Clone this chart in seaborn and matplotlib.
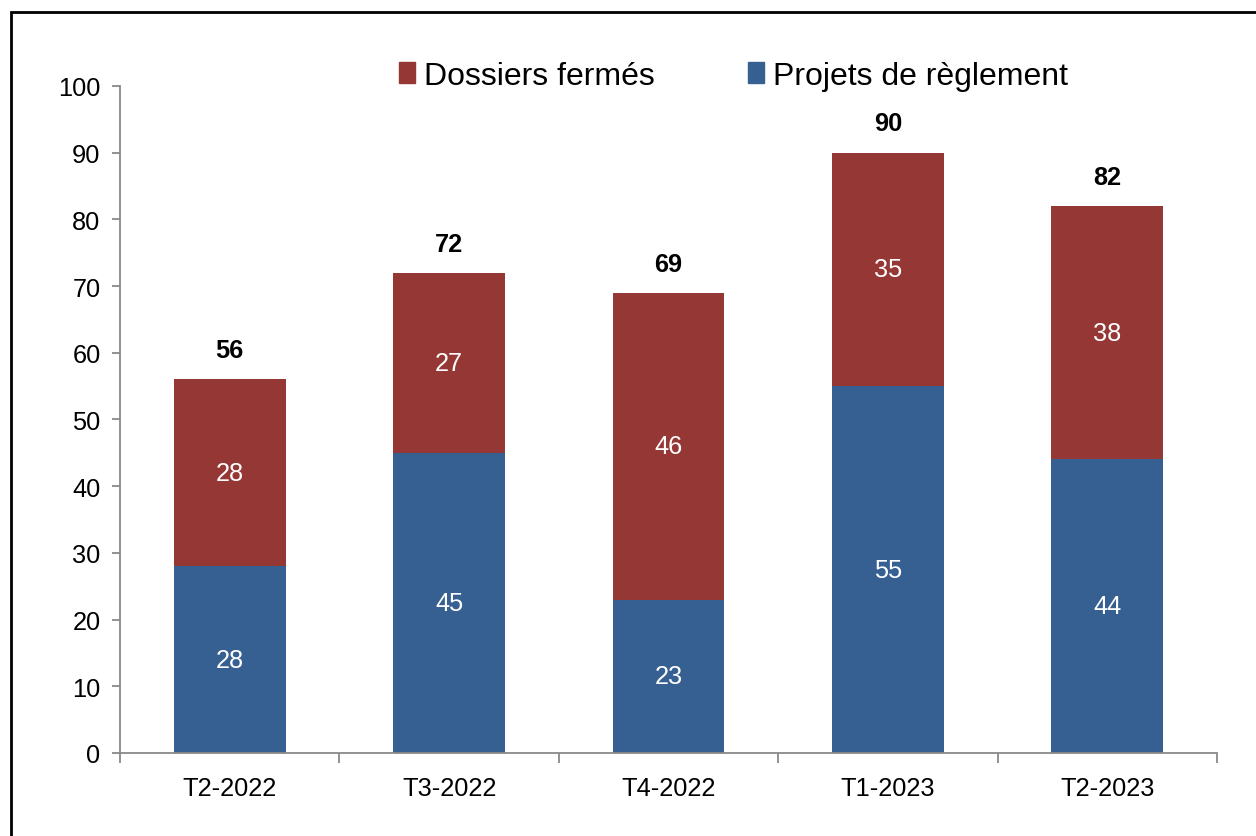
import numpy as np
import pandas as pd
import matplotlib
matplotlib.use("Agg")
import matplotlib.pyplot as plt
import seaborn as sns
from matplotlib.patches import Rectangle, Patch

# data
quarters = ["T2-2022", "T3-2022", "T4-2022", "T1-2023", "T2-2023"]
projets = [28, 45, 23, 55, 44]
dossiers = [28, 27, 46, 35, 38]

red = "#953735"
blue = "#376092"
grey = "#898989"

sns.set_style("white")
plt.rcParams['font.family'] = ['Liberation Sans', 'DejaVu Sans']
plt.rcParams['text.color'] = 'black'
plt.rcParams['xtick.color'] = 'black'
plt.rcParams['ytick.color'] = 'black'

df = pd.DataFrame({"Quarter": quarters, "Projets": projets, "Dossiers": dossiers})
df["Total"] = df["Projets"] + df["Dossiers"]

fig = plt.figure(figsize=(12.56, 8.37), dpi=100)
ax = fig.add_axes([0.0955, 0.0992, 0.8735, 0.7969])

sns.barplot(data=df, x="Quarter", y="Projets", color=blue, width=0.51,
            saturation=1, ax=ax, linewidth=0)
sns.barplot(data=df, x="Quarter", y="Dossiers", bottom=df["Projets"], color=red,
            width=0.51, saturation=1, ax=ax, linewidth=0)

# value labels
for i, row in df.iterrows():
    ax.text(i, row["Projets"] / 2, str(row["Projets"]), ha="center", va="center",
            color="white", fontsize=18.3)
    ax.text(i, row["Projets"] + row["Dossiers"] / 2, str(row["Dossiers"]),
            ha="center", va="center", color="white", fontsize=18.3)
    ax.annotate(str(row["Total"]), (i, row["Total"]), xytext=(0, 21),
                textcoords="offset points", ha="center", va="center",
                fontsize=18.3, fontweight="bold", color="black")

ax.set_xlim(-0.5, len(quarters) - 0.5)
ax.set_ylim(0, 100)
ax.set_yticks(np.arange(0, 101, 10))
ax.set_xlabel("")
ax.set_ylabel("")

for s in ["top", "right"]:
    ax.spines[s].set_visible(False)
for s in ["left", "bottom"]:
    ax.spines[s].set_color(grey)
    ax.spines[s].set_linewidth(1.3)

ax.tick_params(axis="y", which="major", left=True, length=6, width=1.3,
               color=grey, labelsize=18.3, pad=8, labelcolor="black")
ax.tick_params(axis="x", which="major", bottom=False, labelsize=18.3, pad=13,
               labelcolor="black")
ax.set_xticks(np.arange(-0.5, len(quarters), 1), minor=True)
ax.tick_params(axis="x", which="minor", bottom=True, length=7, width=1.3,
               color=grey)

handles = [Patch(color=red, label="Dossiers fermés"),
           Patch(color=blue, label="Projets de règlement")]
fig.legend(handles=handles, loc="center", bbox_to_anchor=(0.584, 0.908), ncol=2,
           frameon=False, fontsize=23, handlelength=0.5, handleheight=0.65,
           handletextpad=0.3, columnspacing=2.9, labelcolor="black")

# outer frame
fig.patches.append(Rectangle((11 / 1256, -0.1), 1.2, 1 - 13 / 837 + 0.1,
                             transform=fig.transFigure, fill=False,
                             edgecolor="black", linewidth=2))

fig.savefig("out.png", dpi=100)
